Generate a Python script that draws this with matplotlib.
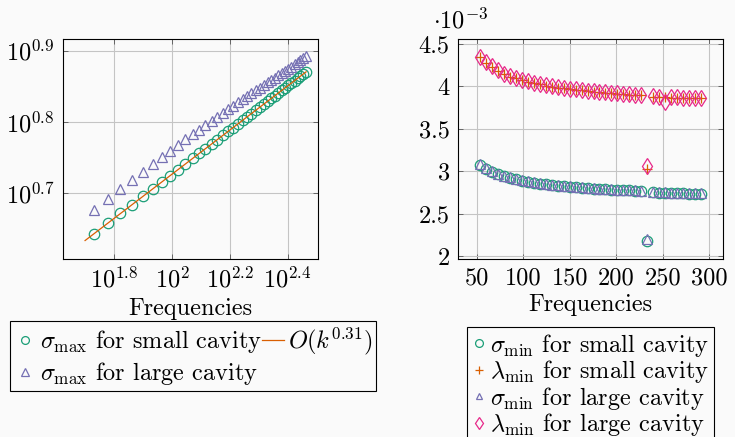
import matplotlib
matplotlib.use("Agg")
import matplotlib.pyplot as plt
from matplotlib.ticker import FixedLocator, FixedFormatter, NullLocator

plt.rcParams['font.family'] = 'cmr10'
plt.rcParams['mathtext.fontset'] = 'cm'
plt.rcParams['axes.formatter.use_mathtext'] = True

# ---------------- data ----------------
freqs = [53.5, 59.9, 66.3, 72.8, 79.2, 85.6, 92.0, 98.4, 104.9, 111.3,
         117.7, 124.1, 130.5, 137.0, 143.4, 149.8, 156.2, 162.6, 169.1, 175.5,
         181.9, 188.3, 194.7, 201.2, 207.6, 214.0, 220.4, 226.8, 233.3, 239.7,
         246.1, 252.5, 258.9, 265.4, 271.8, 278.2, 284.6, 291.0]

sigma_max_small = [4.387, 4.545, 4.690, 4.826, 4.955, 5.076, 5.190, 5.300, 5.405, 5.506,
                   5.603, 5.695, 5.785, 5.872, 5.955, 6.037, 6.115, 6.193, 6.268, 6.340,
                   6.411, 6.480, 6.548, 6.615, 6.679, 6.742, 6.805, 6.864, 6.925, 6.982,
                   7.040, 7.097, 7.153, 7.208, 7.261, 7.313, 7.366, 7.417]

sigma_max_large = [4.745, 4.915, 5.078, 5.231, 5.370, 5.502, 5.626, 5.745, 5.856, 5.961,
                   6.059, 6.152, 6.242, 6.328, 6.411, 6.491, 6.567, 6.644, 6.716, 6.786,
                   6.853, 6.920, 6.984, 7.047, 7.107, 7.166, 7.224, 7.280, 7.335, 7.388,
                   7.440, 7.492, 7.542, 7.596, 7.647, 7.697, 7.748, 7.795]

ref_k = [50.0, 291.0]
ref_val = [4.295, 7.417]

# right panel, values in units of 1e-3
sigma_min_small = [3.075, 3.030, 2.995, 2.965, 2.942, 2.922, 2.905, 2.890, 2.877, 2.866,
                   2.856, 2.847, 2.839, 2.832, 2.825, 2.819, 2.813, 2.808, 2.803, 2.798,
                   2.794, 2.790, 2.786, 2.782, 2.779, 2.776, 2.772, 2.768, 2.180, 2.752,
                   2.749, 2.747, 2.745, 2.743, 2.741, 2.739, 2.737, 2.735]

lambda_min_small = [4.340, 4.277, 4.229, 4.182, 4.144, 4.114, 4.091, 4.071, 4.052, 4.036,
                    4.021, 4.008, 3.996, 3.985, 3.975, 3.966, 3.958, 3.950, 3.942, 3.935,
                    3.929, 3.923, 3.917, 3.912, 3.907, 3.902, 3.898, 3.894, 3.027, 3.876,
                    3.872, 3.869, 3.866, 3.864, 3.862, 3.860, 3.858, 3.856]

sigma_min_large = [3.090, 3.040, 3.003, 2.972, 2.948, 2.928, 2.910, 2.895, 2.882, 2.870,
                   2.860, 2.851, 2.843, 2.836, 2.829, 2.823, 2.817, 2.811, 2.806, 2.801,
                   2.797, 2.793, 2.789, 2.785, 2.782, 2.779, 2.776, 2.773, 2.200, 2.757,
                   2.754, 2.752, 2.750, 2.748, 2.746, 2.744, 2.742, 2.740]

lambda_min_large = [4.344, 4.281, 4.233, 4.186, 4.148, 4.118, 4.095, 4.075, 4.056, 4.040,
                    4.025, 4.012, 4.000, 3.989, 3.979, 3.970, 3.962, 3.954, 3.946, 3.939,
                    3.933, 3.927, 3.921, 3.916, 3.911, 3.906, 3.902, 3.898, 3.066, 3.880,
                    3.876, 3.820, 3.870, 3.868, 3.866, 3.864, 3.862, 3.860]

left_xticks = [10**1.8, 10**2.0, 10**2.2, 10**2.4]
left_xticklabels = [r"$10^{1.8}$", r"$10^{2}$", r"$10^{2.2}$", r"$10^{2.4}$"]
left_yticks = [10**0.7, 10**0.8, 10**0.9]
left_yticklabels = [r"$10^{0.7}$", r"$10^{0.8}$", r"$10^{0.9}$"]
right_xticks = [50, 100, 150, 200, 250, 300]
right_yticks = [2, 2.5, 3, 3.5, 4, 4.5]
right_yticklabels = ["2", "2.5", "3", "3.5", "4", "4.5"]

# ---------------- style ----------------
GREEN = "#1b9e77"
ORANGE = "#d95f02"
PURPLE = "#7570b3"
PINK = "#e7298a"
BG = "#fafafa"
FS = 17.5

W, H = 735, 437
fig = plt.figure(figsize=(W / 100, H / 100), dpi=100, facecolor=BG)


def px_axes(x0, x1, y0, y1):
    return fig.add_axes([x0 / W, (H - y1) / H, (x1 - x0) / W, (y1 - y0) / H])


def style(ax):
    ax.set_facecolor(BG)
    ax.grid(True, color="#c4c4c4", linewidth=0.8)
    ax.set_axisbelow(True)
    for s in ax.spines.values():
        s.set_color("black")
        s.set_linewidth(0.8)
    ax.tick_params(which="both", direction="in", length=3.5, width=0.6,
                   color="#555555", top=True, right=True, labelsize=FS, pad=6)


# left panel
axL = px_axes(63, 318, 39, 259)
style(axL)
axL.set_xscale("log")
axL.set_yscale("log")
axL.plot(freqs, sigma_max_small, linestyle="none", marker="o", ms=7.5,
         mfc="none", mec=GREEN, mew=0.9, label=r"$\sigma_{\max}$ for small cavity")
axL.plot(freqs, sigma_max_large, linestyle="none", marker="^", ms=7,
         mfc="none", mec=PURPLE, mew=0.9, label=r"$\sigma_{\max}$ for large cavity")
axL.plot(ref_k, ref_val, color=ORANGE, lw=0.9, label=r"$O(k^{0.31})$")
axL.set_xlim(10**1.6226, 10**2.505)
axL.set_ylim(10**0.607, 10**0.9164)
axL.xaxis.set_major_locator(FixedLocator(left_xticks))
axL.xaxis.set_major_formatter(FixedFormatter(left_xticklabels))
axL.yaxis.set_major_locator(FixedLocator(left_yticks))
axL.yaxis.set_major_formatter(FixedFormatter(left_yticklabels))
axL.xaxis.set_minor_locator(NullLocator())
axL.yaxis.set_minor_locator(NullLocator())
axL.set_xlabel("Frequencies", fontsize=FS, labelpad=4)

hL = axL.get_legend_handles_labels()
legL = fig.legend(hL[0], hL[1], loc="upper left", bbox_to_anchor=(10 / W, (H - 321) / H),
                  ncol=2, fontsize=FS, frameon=True, fancybox=False, framealpha=1,
                  edgecolor="black", facecolor=BG, borderaxespad=0, borderpad=0.18,
                  handlelength=0.9, handletextpad=0.15, columnspacing=0.0,
                  labelspacing=0.2, markerscale=0.75)
legL.get_frame().set_linewidth(0.8)

# right panel
axR = px_axes(458, 723, 39, 259)
style(axR)
axR.plot(freqs, sigma_min_small, linestyle="none", marker="o", ms=7.5,
         mfc="none", mec=GREEN, mew=0.9, label=r"$\sigma_{\min}$ for small cavity")
axR.plot(freqs, lambda_min_small, linestyle="none", marker="+", ms=7.5,
         mec=ORANGE, mew=0.9, label=r"$\lambda_{\min}$ for small cavity")
axR.plot(freqs, sigma_min_large, linestyle="none", marker="^", ms=6.5,
         mfc="none", mec=PURPLE, mew=0.9, label=r"$\sigma_{\min}$ for large cavity")
axR.plot(freqs, lambda_min_large, linestyle="none", marker="d", ms=8,
         mfc="none", mec=PINK, mew=0.9, label=r"$\lambda_{\min}$ for large cavity")
axR.set_xlim(29.5, 315)
axR.set_ylim(1.97, 4.555)
axR.xaxis.set_major_locator(FixedLocator(right_xticks))
axR.xaxis.set_major_formatter(FixedFormatter([str(v) for v in right_xticks]))
axR.yaxis.set_major_locator(FixedLocator(right_yticks))
axR.yaxis.set_major_formatter(FixedFormatter(right_yticklabels))
axR.set_xlabel("Frequencies", fontsize=FS, labelpad=3)
fig.text(433 / W, (H - 28) / H, r"$\cdot 10^{-3}$", fontsize=FS, ha="left", va="baseline")

legR = fig.legend(*axR.get_legend_handles_labels(), loc="upper left",
                  bbox_to_anchor=(467 / W, (H - 327) / H),
                  ncol=1, fontsize=FS, frameon=True, fancybox=False, framealpha=1,
                  edgecolor="black", facecolor=BG, borderaxespad=0, borderpad=0.2,
                  handlelength=0.6, handletextpad=0.15, labelspacing=-0.02,
                  markerscale=0.75)
legR.get_frame().set_linewidth(0.8)

fig.savefig("out.png", dpi=100, facecolor=BG)
